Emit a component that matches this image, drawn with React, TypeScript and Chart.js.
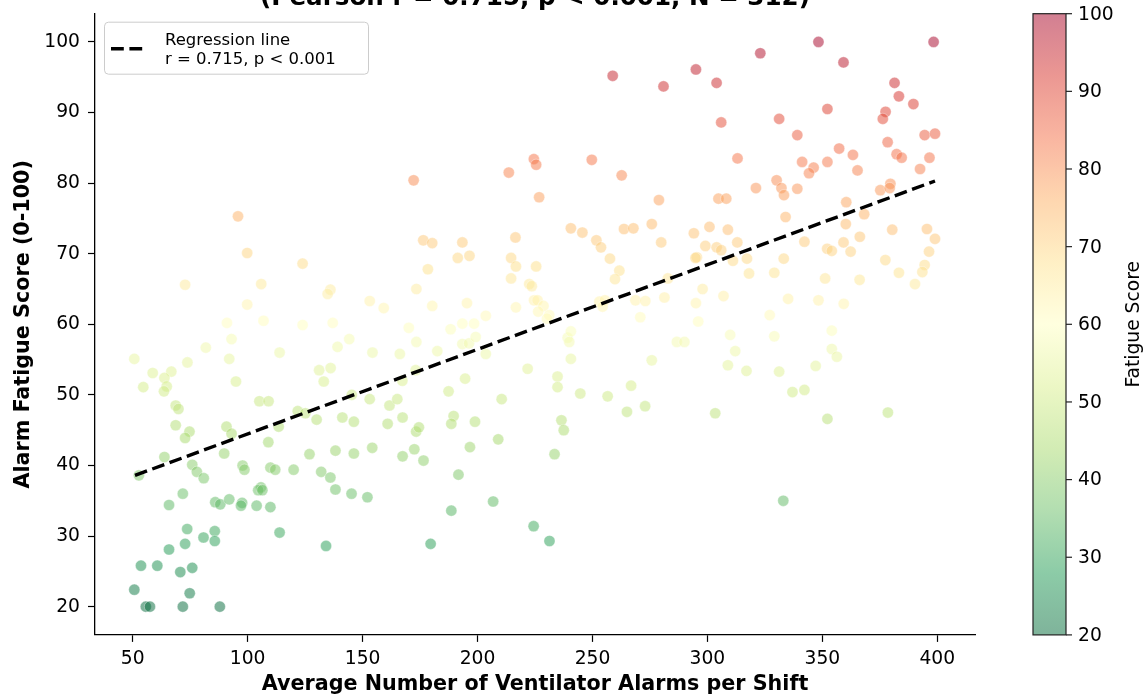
import React, { useEffect, useRef } from 'react';
import { Chart, registerables } from 'chart.js';

Chart.register(...registerables);

// ---------------- DATA ----------------
const alarms: number[] = [
  // low-left cluster
  50.7, 55.7, 57.5, 71.8, 87.9, 74.8, 53.6, 60.7, 70.7, 75.9, 65.8, 72.8, 73.7, 80.8, 85.7, 85.7, 113.9, 134.1, 65.8, 71.8,
  85.9, 88.1, 92.0, 97.6, 97.1, 103.9, 109.9, 105.8, 104.6, 106.4, 138.2, 145.2, 152.1,
  // left middle
  91.0, 106.9, 123.9, 137.0, 93.0, 81.8, 144.2, 139.1, 50.7, 92.0, 113.9, 154.3, 58.7, 66.8, 73.8, 63.8, 131.1, 136.1, 133.1, 54.6,
  64.8, 63.6, 94.9, 105.1, 109.1, 145.3, 153.1, 161.7, 68.7, 69.9, 121.8, 125.1, 68.7, 74.7, 72.8, 90.8, 93.0, 113.5, 130.0, 141.2,
  146.2, 160.9, 109.0, 63.8, 89.8, 126.9, 138.2, 146.2, 154.2, 52.7, 75.9, 77.9, 80.9, 97.8, 98.6, 109.9, 112.0, 120.0, 132.0, 136.0,
  // left upper
  95.8, 99.8, 123.9, 72.8, 105.9, 136.0, 134.8, 153.1, 159.2, 99.8,
  // centre
  240.6, 245.6, 263.7, 267.8, 275.8, 279.9, 176.4, 180.3, 193.4, 191.4, 196.5, 216.5, 214.6, 216.7, 225.5, 214.6, 251.7, 253.7, 257.6, 261.7,
  259.8, 178.4, 173.4, 222.5, 223.6, 224.6, 226.1, 282.8, 281.3, 268.7, 273.0, 180.3, 195.4, 216.7, 228.7, 226.4, 231.2, 230.2, 253.0, 255.4,
  254.4, 270.8, 170.1, 188.3, 193.4, 198.5, 203.6, 173.4, 182.5, 193.4, 196.3, 199.2, 203.6, 239.2, 240.6, 239.9, 286.7, 166.2, 173.1, 167.3,
  194.6, 221.8, 240.6, 275.8, 234.8, 234.8, 187.4, 165.1, 210.5, 244.7, 256.6, 266.8,
  // centre lower
  167.4, 167.4, 172.5, 176.5, 173.3, 174.5, 189.6, 188.6, 198.9, 196.7, 191.7, 188.6, 206.8, 179.6, 209.0, 236.5, 237.5, 233.5, 224.4, 231.3,
  265.0, 272.9, 303.4, 337.0, 342.2, 352.2, 378.5, 333.0,
  // right middle
  368.2, 294.1, 300.9, 308.9, 299.1, 304.0, 306.0, 313.0, 334.0, 360.2, 380.4, 395.5, 399.0, 342.2, 359.2, 366.3, 295.4, 294.8, 311.1, 317.2,
  333.2, 352.1, 354.1, 362.3, 396.4, 377.4, 394.5, 393.5, 383.3, 390.3, 318.1, 329.1, 351.2, 366.2, 297.9, 295.0, 307.0, 335.1, 348.3, 359.3,
  296.0, 327.1, 309.9, 329.1, 354.1, 290.0, 312.1, 354.1, 356.3, 308.9, 317.0, 331.2, 347.1,
  // right upper
  280.9, 295.0, 304.0, 323.0, 348.3, 359.2, 398.4, 381.4, 383.3, 389.6, 377.5, 376.3, 352.2, 331.2, 306.0, 339.1, 394.5, 399.0, 378.4, 382.3,
  384.5, 357.3, 363.3, 396.6, 341.2, 346.2, 344.2, 352.2, 365.3, 313.1, 392.5, 330.1, 332.2, 333.3, 339.1, 321.1, 304.8, 308.2, 278.9, 360.4,
  375.2, 379.6, 379.3,
  // centre upper
  258.8, 224.5, 225.5, 213.6, 249.7, 262.7, 172.2, 226.8,
];

const fatigue: number[] = [
  22.4, 20.0, 20.0, 20.0, 20.0, 21.9, 25.8, 25.8, 24.9, 25.5, 28.1, 28.9, 31.0, 29.8, 30.7, 29.3, 30.5, 28.6, 34.4, 36.0,
  34.8, 34.5, 35.2, 34.7, 34.3, 34.3, 34.1, 36.9, 36.5, 36.5, 36.6, 36.0, 35.5,
  60.2, 60.5, 59.9, 60.2, 57.9, 56.7, 57.9, 56.8, 55.1, 55.1, 56.0, 56.0, 53.1, 53.3, 54.6, 52.4, 53.5, 53.8, 51.9, 51.1,
  51.2, 50.5, 51.9, 49.1, 49.1, 50.0, 49.4, 48.5, 48.5, 48.0, 47.7, 47.4, 45.7, 44.8, 43.9, 45.5, 44.5, 45.5, 46.5, 46.8,
  46.2, 45.9, 43.3, 41.2, 41.7, 41.6, 42.1, 41.7, 42.5, 38.6, 40.1, 39.1, 38.2, 40.0, 39.4, 39.7, 39.4, 39.4, 39.1, 38.3,
  75.3, 70.1, 68.6, 65.6, 65.7, 64.9, 64.3, 63.3, 62.3, 62.8,
  73.6, 73.0, 73.5, 73.6, 74.2, 71.6, 71.9, 71.5, 71.6, 69.4, 69.7, 72.3, 69.4, 68.2, 68.2, 66.5, 71.9, 70.9, 69.3, 67.6,
  66.4, 67.8, 65.0, 65.7, 65.4, 63.4, 63.4, 66.5, 63.8, 63.4, 63.3, 62.6, 63.0, 62.4, 62.6, 61.8, 61.3, 60.8, 63.2, 63.4,
  62.5, 61.0, 59.5, 59.3, 60.1, 60.1, 61.2, 57.5, 56.2, 57.2, 57.3, 58.2, 55.8, 58.1, 59.0, 57.5, 57.5, 55.8, 53.5, 52.0,
  52.3, 53.7, 55.1, 54.9, 52.6, 51.1, 50.5, 49.4, 49.4, 50.2, 49.8, 51.3,
  46.8, 41.3, 42.3, 40.7, 44.8, 45.4, 47.0, 45.9, 46.2, 42.6, 38.7, 33.6, 34.9, 28.9, 43.7, 46.4, 45.0, 41.6, 31.4, 29.3,
  47.6, 48.4, 47.4, 50.4, 50.7, 46.6, 47.5, 35.0,
  75.6, 72.9, 73.8, 73.4, 71.1, 70.9, 70.5, 71.6, 75.2, 74.2, 73.4, 73.5, 72.1, 71.7, 71.6, 72.4, 69.5, 69.4, 69.0, 69.3,
  69.3, 70.7, 70.4, 70.3, 70.3, 69.1, 68.4, 67.4, 67.3, 65.7, 67.2, 67.3, 66.5, 66.3, 65.0, 63.0, 64.0, 63.6, 63.4, 62.9,
  60.4, 61.3, 58.5, 58.3, 59.1, 57.5, 56.2, 56.5, 55.4, 54.2, 53.4, 53.3, 54.1,
  93.7, 96.1, 94.2, 98.4, 100.0, 97.1, 100.0, 94.2, 92.3, 91.2, 90.1, 89.1, 90.5, 89.1, 88.6, 86.8, 86.8, 87.0, 85.8, 84.1,
  83.6, 84.9, 84.0, 83.6, 83.0, 82.2, 81.4, 83.0, 81.8, 83.5, 82.0, 80.4, 79.3, 78.3, 79.2, 79.3, 77.8, 77.8, 77.6, 77.3,
  79.0, 79.9, 79.3,
  95.2, 83.4, 82.6, 81.5, 83.3, 81.1, 80.4, 78.0,
];

const regressionX: number[] = [51, 399];
const regressionY: number[] = [38.6, 80.3];

const xTicks: number[] = [50, 100, 150, 200, 250, 300, 350, 400];
const yTicks: number[] = [20, 30, 40, 50, 60, 70, 80, 90, 100];
const cbTicks: number[] = [20, 30, 40, 50, 60, 70, 80, 90, 100];

const titleText = '(Pearson r = 0.715, p < 0.001, N = 312)';
const legendLines: string[] = ['Regression line', 'r = 0.715, p < 0.001'];
const xLabel = 'Average Number of Ventilator Alarms per Shift';
const yLabel = 'Alarm Fatigue Score (0-100)';
const cbLabel = 'Fatigue Score';

// ---------------- STYLE ----------------
const FONT = '"DejaVu Sans", sans-serif';
const RDYLGN = ['#a50026', '#d73027', '#f46d43', '#fdae61', '#fee08b', '#ffffbf', '#d9ef8b', '#a6d96a', '#66bd63', '#1a9850', '#006837'];
const RGB = RDYLGN.map((h) => [parseInt(h.slice(1, 3), 16), parseInt(h.slice(3, 5), 16), parseInt(h.slice(5, 7), 16)]);
const ALPHA = 0.5;

function cmap(v: number, a: number): string {
  const t = Math.min(1, Math.max(0, (v - 20) / 80));
  const s = (1 - t) * 10;
  const i = Math.min(9, Math.floor(s));
  const f = s - i;
  const c0 = RGB[i];
  const c1 = RGB[i + 1];
  const r = Math.round(c0[0] + (c1[0] - c0[0]) * f);
  const g = Math.round(c0[1] + (c1[1] - c0[1]) * f);
  const b = Math.round(c0[2] + (c1[2] - c0[2]) * f);
  return `rgba(${r},${g},${b},${a})`;
}

const decorPlugin = {
  id: 'decor',
  afterDraw(chart: any) {
    const ctx = chart.ctx as CanvasRenderingContext2D;
    const area = chart.chartArea;
    ctx.save();

    // Title (second line, partially clipped at top)
    ctx.fillStyle = '#000';
    ctx.font = `bold 24.6px ${FONT}`;
    ctx.textAlign = 'center';
    ctx.textBaseline = 'alphabetic';
    ctx.fillText(titleText, (area.left + area.right) / 2, 5);

    // Legend
    const lx = area.left + 9;
    const ly = area.top + 8;
    const lw = 264;
    const lh = 52;
    ctx.beginPath();
    (ctx as any).roundRect(lx + 0.5, ly + 0.5, lw, lh, 4);
    ctx.fillStyle = 'rgba(255,255,255,0.8)';
    ctx.fill();
    ctx.strokeStyle = '#cccccc';
    ctx.lineWidth = 1;
    ctx.stroke();

    ctx.beginPath();
    ctx.setLineDash([12.8, 5.6]);
    ctx.strokeStyle = '#000';
    ctx.lineWidth = 3.4;
    ctx.moveTo(lx + 7, ly + 27);
    ctx.lineTo(lx + 42, ly + 27);
    ctx.stroke();
    ctx.setLineDash([]);

    ctx.fillStyle = '#000';
    ctx.font = `16.5px ${FONT}`;
    ctx.textAlign = 'left';
    ctx.textBaseline = 'alphabetic';
    ctx.fillText(legendLines[0], lx + 61, ly + 23);
    ctx.fillText(legendLines[1], lx + 61, ly + 42.5);

    // Colorbar
    const cb = chart.scales.cb;
    const yTop = cb.getPixelForValue(100);
    const yBot = cb.getPixelForValue(20);
    const cx0 = area.right + 58;
    const cx1 = cx0 + 33;
    const grad = ctx.createLinearGradient(0, yBot, 0, yTop);
    for (let k = 0; k <= 80; k++) {
      grad.addColorStop(k / 80, cmap(20 + k, ALPHA));
    }
    ctx.fillStyle = grad;
    ctx.fillRect(cx0, yTop, cx1 - cx0, yBot - yTop);
    ctx.strokeStyle = '#222';
    ctx.lineWidth = 1.2;
    ctx.strokeRect(cx0, yTop, cx1 - cx0, yBot - yTop);

    ctx.font = `18.7px ${FONT}`;
    ctx.fillStyle = '#000';
    ctx.textAlign = 'left';
    ctx.textBaseline = 'middle';
    ctx.lineWidth = 1.2;
    for (const v of cbTicks) {
      const y = cb.getPixelForValue(v);
      ctx.beginPath();
      ctx.moveTo(cx1, y);
      ctx.lineTo(cx1 + 6, y);
      ctx.stroke();
      ctx.fillText(String(v), cx1 + 12, y + 1);
    }

    ctx.translate(cx1 + 68, (yTop + yBot) / 2);
    ctx.rotate(-Math.PI / 2);
    ctx.textAlign = 'center';
    ctx.textBaseline = 'middle';
    ctx.font = `18.7px ${FONT}`;
    ctx.fillText(cbLabel, 0, 0);

    ctx.restore();
  },
};

export default function App() {
  const canvasRef = useRef<HTMLCanvasElement | null>(null);

  useEffect(() => {
    const canvas = canvasRef.current;
    if (!canvas) return;
    const points = alarms.map((x, i) => ({ x, y: fatigue[i] }));
    const regLine = regressionX.map((x, i) => ({ x, y: regressionY[i] }));

    const tickFont = { family: FONT, size: 18.7 };
    const titleFont = { family: FONT, size: 20.7, weight: 'bold' as const };

    const chart = new Chart(canvas, {
      type: 'scatter',
      data: {
        datasets: [
          {
            type: 'line',
            label: 'Regression line',
            data: regLine,
            borderColor: '#000',
            borderWidth: 3.4,
            borderDash: [12.8, 5.6],
            pointRadius: 0,
            pointHoverRadius: 0,
            fill: false,
            tension: 0,
          } as any,
          {
            type: 'scatter',
            label: 'Data',
            data: points,
            backgroundColor: fatigue.map((v) => cmap(v, ALPHA)),
            borderColor: 'rgba(255,255,255,0.6)',
            borderWidth: 0.6,
            pointRadius: 5.6,
            pointHoverRadius: 5.6,
          },
        ],
      },
      options: {
        responsive: false,
        animation: false,
        events: [],
        layout: { padding: { top: 13.7, right: 171, left: 0, bottom: 0 } },
        plugins: {
          legend: { display: false },
          tooltip: { enabled: false },
          title: { display: false },
        },
        scales: {
          x: {
            type: 'linear',
            min: 33.6,
            max: 416.4,
            afterBuildTicks: (s: any) => {
              s.ticks = xTicks.map((v) => ({ value: v }));
            },
            afterFit: (s: any) => {
              s.height = 62.1;
              s.paddingLeft = 0;
              s.paddingRight = 0;
            },
            ticks: { font: tickFont, color: '#000', padding: 6, maxRotation: 0, autoSkip: false },
            grid: { display: true, drawOnChartArea: false, drawTicks: true, tickLength: 7, tickColor: '#000', tickWidth: 1.2 },
            border: { display: true, color: '#000', width: 1.3 },
            title: { display: true, text: xLabel, font: titleFont, color: '#000', padding: { top: 0, bottom: 0 } },
          },
          y: {
            type: 'linear',
            min: 16,
            max: 104,
            afterBuildTicks: (s: any) => {
              s.ticks = yTicks.map((v) => ({ value: v }));
            },
            afterFit: (s: any) => {
              s.width = 95;
              s.paddingTop = 0;
              s.paddingBottom = 0;
            },
            ticks: { font: tickFont, color: '#000', padding: 8, autoSkip: false },
            grid: { display: true, drawOnChartArea: false, drawTicks: true, tickLength: 7, tickColor: '#000', tickWidth: 1.2 },
            border: { display: true, color: '#000', width: 1.3 },
            title: { display: true, text: yLabel, font: titleFont, color: '#000', padding: { top: 11, bottom: 0 } },
          },
          cb: {
            type: 'linear',
            axis: 'y',
            position: 'right',
            display: false,
            min: 20,
            max: 100,
          } as any,
        },
      },
      plugins: [decorPlugin],
    });

    return () => chart.destroy();
  }, []);

  return (
    <div style={{ position: 'absolute', left: 0, top: 0, width: 1146, height: 697, background: '#fff' }}>
      <canvas ref={canvasRef} width={1146} height={697} style={{ display: 'block', width: 1146, height: 697 }} />
    </div>
  );
}
